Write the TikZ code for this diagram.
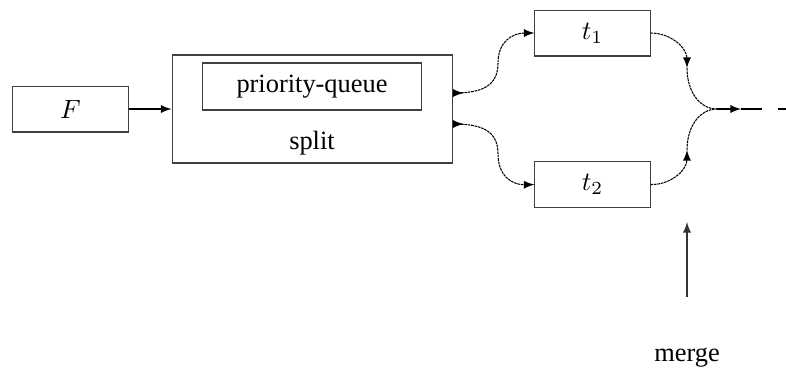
\documentclass[tikz,border=0pt]{standalone}
\usepackage{amsmath,amssymb}
\usepackage{fontspec}
\setmainfont{Liberation Serif}
\usepackage{tikz}

\begin{document}
\begin{tikzpicture}[x=0.3788pt, y=-0.3788pt,
    box/.style={draw=black!75, minimum width=43.6pt, minimum height=17.4pt, inner sep=0pt},
    flow/.style={dash pattern=on 1pt off 0.3pt}]
    \useasboundingbox (0, 0) rectangle (786, 368);

    \node [box] (F) at (70.5, 109) {$F$};
    \node [draw=black!75, minimum width=106.4pt, minimum height=40.9pt] (split) at (312.5, 109) {};
    \node [box, minimum width=83.3pt, minimum height=17.8pt] (pq) at (312, 86.5) {priority-queue};
    \node (splitlabel) at (312, 143) {split};

    \node [box] (t1) at (592.5, 33) {$t_1$};
    \node [box] (t2) at (592.5, 184.5) {$t_2$};

    \draw[-latex] (F) -- (split);

    \coordinate (out1) at (453, 93);
    \coordinate (out2) at (453, 124);
    \draw[flow, {latex reversed}-latex] (out1) .. controls (482, 93) and (498, 86) .. (498, 63)
        .. controls (498, 42) and (512, 33) .. (t1.west);
    \draw[flow, {latex reversed}-latex] (out2) .. controls (482, 124) and (498, 131) .. (498, 154)
        .. controls (498, 176) and (512, 185) .. (t2.west);

    \coordinate (in1) at (687, 68);
    \coordinate (in2) at (687, 150);
    \coordinate (m) at (717, 109);
    \draw[flow, -latex] (t1.east) .. controls (671, 33) and (687, 48) .. (in1);
    \draw[flow] (in1) .. controls (687, 92) and (700, 109) .. (m);
    \draw[flow, -latex] (t2.east) .. controls (671, 185) and (687, 170) .. (in2);
    \draw[flow] (in2) .. controls (687, 126) and (700, 109) .. (m);

    \coordinate (m1) at (741, 109);
    \coordinate (m2) at (762, 109);
    \draw[-latex] (m) -- (m1);
    \draw (m1) -- (m2);
    \draw (778, 109) -- (786, 109);

    \coordinate (up1) at (687, 297);
    \coordinate (up2) at (687, 222);
    \draw[-latex, black!80] (up1) -- (up2);
    \node (mergelabel) at (687, 358) {merge};

\end{tikzpicture}
\end{document}
